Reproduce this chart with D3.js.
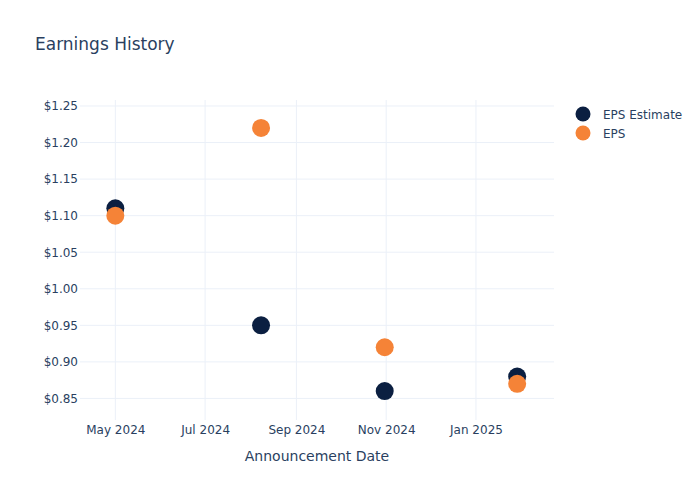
<!DOCTYPE html>
<html>
<head>
<meta charset="utf-8">
<script src="https://cdn.jsdelivr.net/npm/d3@7"></script>
<style>
  body { margin: 0; background: #fff; }
  svg text { font-family: "DejaVu Sans", sans-serif; fill: #2a3f5f; }
</style>
</head>
<body>
<svg id="chart" width="700" height="500"></svg>
<script>
// data
const dates = ["2024-05-01", "2024-08-08", "2024-10-31", "2025-01-29"]
const epsEstimate = [1.11, 0.95, 0.86, 0.88]
const eps = [1.10, 1.22, 0.92, 0.87]
const yTicks = [0.85, 0.90, 0.95, 1.00, 1.05, 1.10, 1.15, 1.20, 1.25]
const xTicks = ["2024-05-01", "2024-07-01", "2024-09-01", "2024-11-01", "2025-01-01"]
const seriesNames = ["EPS Estimate", "EPS"]
const seriesColors = ["#0b1f41", "#f58337"]

let parse = d3.timeParse("%Y-%m-%d")
let svg = d3.select("#chart")

let margin = {l: 80, r: 146, t: 100, b: 80}
let w = 700 - margin.l - margin.r
let h = 500 - margin.t - margin.b

let x = d3.scaleTime()
    .domain([parse("2024-04-07"), parse("2025-02-23")])
    .range([0, w])
let y = d3.scaleLinear()
    .domain([0.8205, 1.2582])
    .range([h, 0])

let g = svg.append("g").attr("transform", "translate(" + margin.l + "," + margin.t + ")")

// grid
g.selectAll(".gx").data(xTicks).enter().append("line")
    .attr("x1", d => x(parse(d))).attr("x2", d => x(parse(d)))
    .attr("y1", 0).attr("y2", h)
    .attr("stroke", "#ebf0f8").attr("stroke-width", 1)
g.selectAll(".gy").data(yTicks).enter().append("line")
    .attr("x1", 0).attr("x2", w)
    .attr("y1", d => y(d)).attr("y2", d => y(d))
    .attr("stroke", "#ebf0f8").attr("stroke-width", 1)

// axes (labels only, plotly style)
let xAxis = d3.axisBottom(x)
    .tickValues(xTicks.map(parse))
    .tickFormat(d3.timeFormat("%b %Y"))
    .tickSize(0).tickPadding(5)
let xg = g.append("g").attr("transform", "translate(0," + h + ")").call(xAxis)
xg.select(".domain").remove()
xg.selectAll("text").style("font-size", "12px").attr("fill", "#2a3f5f")

let yAxis = d3.axisLeft(y)
    .tickValues(yTicks)
    .tickFormat(d => "$" + d3.format(".2f")(d))
    .tickSize(0).tickPadding(2)
let yg = g.append("g").call(yAxis)
yg.select(".domain").remove()
yg.selectAll("text").style("font-size", "12px").attr("fill", "#2a3f5f")

// points
let series = [epsEstimate, eps]
series.forEach((vals, i) => {
    g.selectAll(".s" + i).data(vals).enter().append("circle")
        .attr("cx", (d, j) => x(parse(dates[j])))
        .attr("cy", d => y(d))
        .attr("r", 9)
        .attr("fill", seriesColors[i])
})

// title
svg.append("text").attr("x", 35).attr("y", 50)
    .style("font-size", "17px").text("Earnings History")

// x axis title
svg.append("text").attr("x", margin.l + w / 2).attr("y", 461)
    .attr("text-anchor", "middle")
    .style("font-size", "14px").text("Announcement Date")

// legend
let legend = svg.append("g").attr("transform", "translate(583,114)")
seriesNames.forEach((name, i) => {
    legend.append("circle").attr("cx", 0).attr("cy", i * 19).attr("r", 7.5)
        .attr("fill", seriesColors[i])
    legend.append("text").attr("x", 20).attr("y", i * 19 + 4.5)
        .style("font-size", "12px").text(name)
})
</script>
</body>
</html>
